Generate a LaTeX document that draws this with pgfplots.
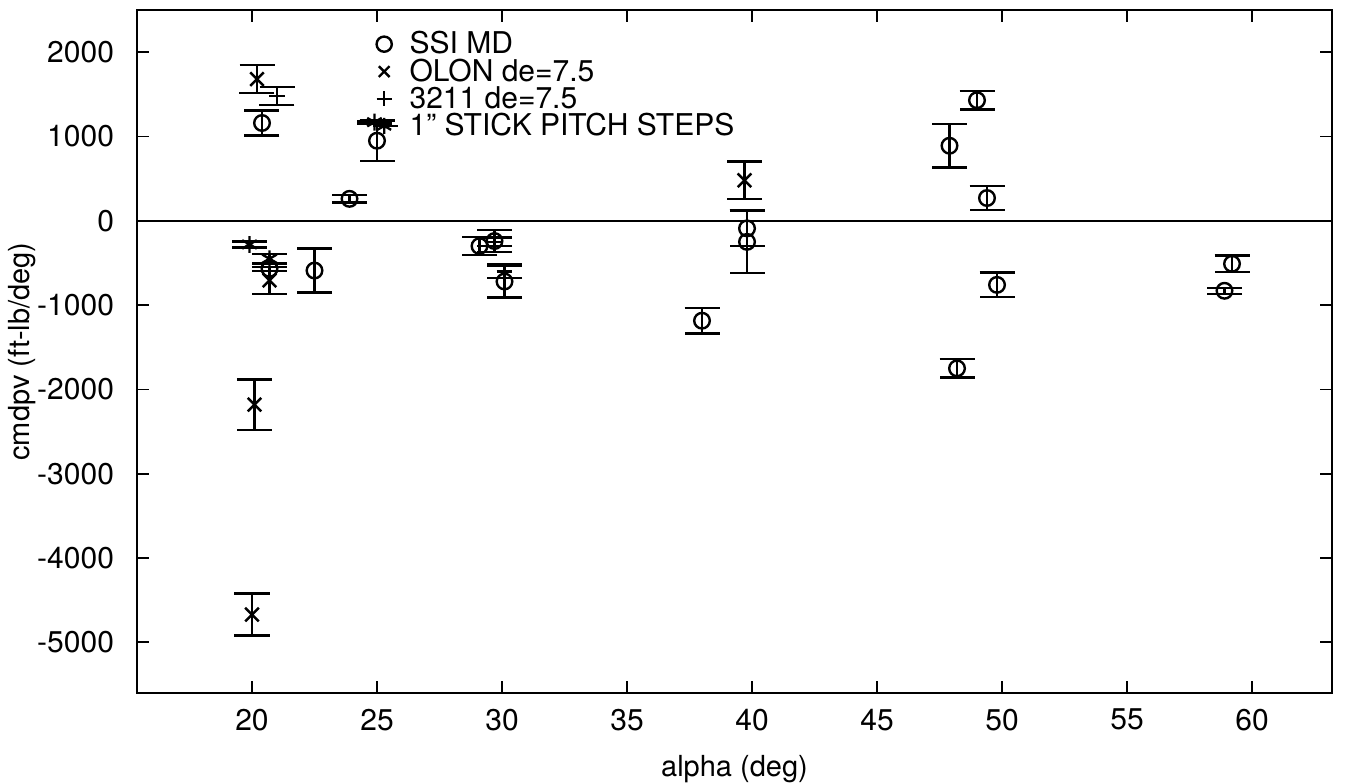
\documentclass[border=0pt]{standalone}
\usepackage{fontspec}
\setmainfont{TeX Gyre Heros}
\usepackage{pgfplots}
\pgfplotsset{compat=1.18}
\pgfplotsset{stickleg/.style={legend image code/.code={\draw[line width=1.2pt] (-0.05cm,0)--(0.4cm,0); \draw[##1, line width=1.2pt, mark size=4pt] plot coordinates {(0.15cm,0cm)};}}}
\pgfplotstableread{
x y e
20.4 1160 150
25.0 950 240
23.9 260 45
22.5 -590 260
20.7 -570 25
29.1 -300 105
29.7 -240 130
30.1 -720 190
39.8 -90 210
39.8 -250 370
38.0 -1185 150
49.0 1430 110
47.9 890 260
49.4 270 140
49.8 -760 145
48.2 -1750 110
59.2 -510 100
58.9 -830 35
}\ssimd
\pgfplotstableread{
x y e
20.2 1680 165
20.7 -707 160
20.1 -2180 300
20.0 -4670 250
39.7 480 225
}\olon
\pgfplotstableread{
x y e
21.0 1480 110
29.7 -250 50
30.1 -600 80
}\three
\pgfplotstableread{
x y e
24.9 1170 15
19.9 -280 35
20.7 -450 55
}\stick
\begin{document}
\begin{tikzpicture}
\begin{axis}[
  scale only axis, width=597.5pt, height=341.5pt,
  xmin=15.4, xmax=63.2, ymin=-5600, ymax=2500,
  xtick={20,25,...,60}, ytick={-5000,-4000,...,2000},
  tick align=inside, major tick length=6pt,
  axis line style={line width=0.9pt},
  every tick/.style={black, line width=0.9pt},
  tick label style={font=\fontsize{15}{17}\selectfont},
  xticklabel style={yshift=-4.5pt},
  yticklabel style={xshift=-8pt},
  /pgf/number format/assume math mode=true,
  /pgf/number format/1000 sep={},
  label style={font=\fontsize{14.5}{16}\selectfont},
  xlabel={alpha (deg)}, ylabel={cmdpv (ft-lb/deg)},
  x label style={at={(axis description cs:0.5,0)}, anchor=north, yshift=-27.8pt},
  y label style={at={(axis description cs:-0.079,0.5)}, anchor=south},
  legend style={draw=none, fill=none, at={(axis description cs:0.196,0.975)}, anchor=north west,
    font=\fontsize{15}{17}\selectfont, row sep=-3pt, inner sep=0pt,
    /tikz/every odd column/.append style={column sep=3pt}},
  legend cell align=left,
  legend image code/.code={\draw[#1, line width=1.2pt, mark size=3.8pt] plot coordinates {(0.15cm,0cm)};},
  every axis plot/.append style={black, line width=1.2pt},
  error bars/error bar style={line width=1.2pt},
  error bars/error mark options={mark size=8.75pt, line width=1.2pt, rotate=90},
]
\addplot[only marks, mark=o, mark size=3.9pt,
  error bars/.cd, y dir=both, y explicit] table[x=x, y=y, y error=e] {\ssimd};
\addlegendentry{SSI MD}
\addplot[only marks, mark=x, mark size=4.8pt,
  error bars/.cd, y dir=both, y explicit] table[x=x, y=y, y error=e] {\olon};
\addlegendentry{OLON de=7.5}
\addplot[only marks, mark=+, mark size=3.9pt,
  error bars/.cd, y dir=both, y explicit] table[x=x, y=y, y error=e] {\three};
\addlegendentry{3211 de=7.5}
\addplot[only marks, mark=asterisk, mark size=4.2pt, stickleg,
  error bars/.cd, y dir=both, y explicit] table[x=x, y=y, y error=e] {\stick};
\addlegendentry{1" STICK PITCH STEPS}
\addplot[black, line width=0.9pt, forget plot] coordinates {(15.4,0) (63.2,0)};
\end{axis}
\pgfresetboundingbox
\useasboundingbox ([xshift=-68.5pt,yshift=-45.5pt]current axis.south west) rectangle ([xshift=8pt,yshift=5pt]current axis.north east);
\end{tikzpicture}
\end{document}
